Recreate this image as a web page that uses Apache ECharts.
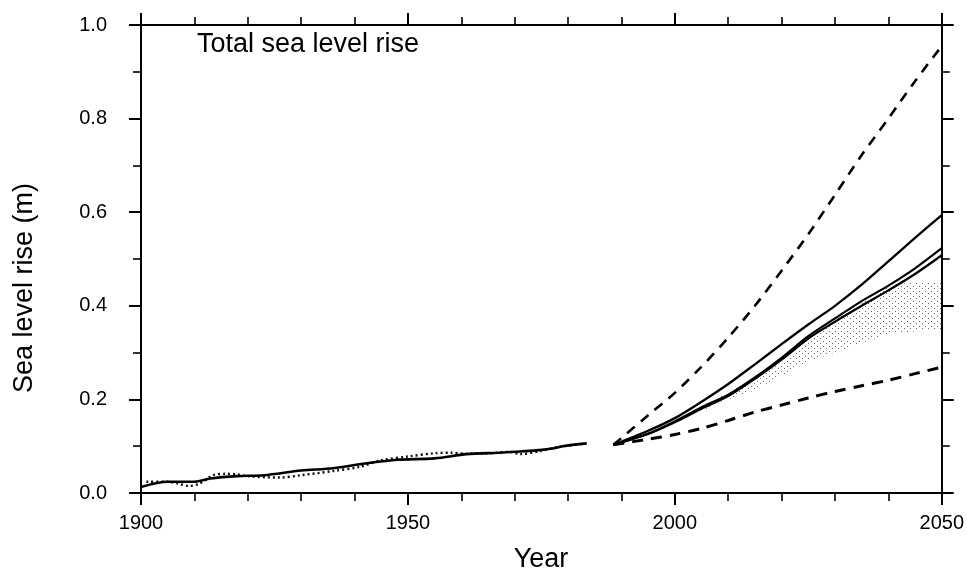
<!DOCTYPE html>
<html>
<head>
<meta charset="utf-8">
<script src="https://cdn.jsdelivr.net/npm/echarts@6/dist/echarts.min.js"></script>
<style>
html,body{margin:0;padding:0;background:#fff;}
#chart{width:967px;height:572px;}
</style>
</head>
<body>
<div id="chart"></div>
<script>
// ---- data ----
const histYears  = [1900, 1905, 1910, 1913, 1918, 1923, 1930, 1936, 1942, 1948, 1955, 1961, 1967, 1970, 1974, 1977, 1979, 1983.5];
const histSolid  = [0.013, 0.024, 0.024, 0.031, 0.036, 0.038, 0.048, 0.053, 0.063, 0.071, 0.074, 0.083, 0.086, 0.088, 0.091, 0.095, 0.100, 0.106];
const histDotYears = [1901, 1905, 1907, 1909, 1911, 1913.5, 1916, 1918, 1920, 1926, 1930, 1936, 1941, 1945, 1950, 1955, 1958, 1961, 1964, 1969, 1971, 1975, 1978, 1983];
const histDotted   = [0.024, 0.024, 0.020, 0.015, 0.020, 0.038, 0.041, 0.040, 0.036, 0.033, 0.038, 0.047, 0.056, 0.070, 0.078, 0.085, 0.086, 0.084, 0.084, 0.088, 0.083, 0.090, 0.098, 0.105];

const projYears   = [1988.5, 1995, 2000, 2005, 2010, 2015, 2020, 2025, 2030, 2035, 2040, 2045, 2050];
const upperDashed = [0.103, 0.166, 0.214, 0.270, 0.332, 0.400, 0.475, 0.553, 0.637, 0.722, 0.800, 0.880, 0.955];
const lowerDashed = [0.103, 0.115, 0.125, 0.138, 0.155, 0.173, 0.188, 0.203, 0.217, 0.229, 0.241, 0.255, 0.269];
const upperSolid  = [0.103, 0.133, 0.160, 0.195, 0.233, 0.275, 0.318, 0.360, 0.400, 0.445, 0.495, 0.545, 0.594];
const midUpper    = [0.103, 0.127, 0.153, 0.183, 0.210, 0.247, 0.289, 0.335, 0.373, 0.410, 0.443, 0.480, 0.523];
const midLower    = [0.103, 0.126, 0.151, 0.180, 0.207, 0.244, 0.285, 0.330, 0.366, 0.400, 0.433, 0.468, 0.508];

const bandYears = [2004, 2010, 2015, 2020, 2025, 2030, 2035, 2040, 2045, 2050];
const bandLow   = [0.170, 0.200, 0.220, 0.250, 0.280, 0.300, 0.320, 0.340, 0.345, 0.350];
const bandHigh  = [0.180, 0.215, 0.245, 0.280, 0.330, 0.370, 0.405, 0.440, 0.450, 0.450];

const xTickLabels = ['1900', '1950', '2000', '2050'];
const yTickLabels = ['0.0', '0.2', '0.4', '0.6', '0.8', '1.0'];

const titleText = 'Total sea level rise';
const xName = 'Year';
const yName = 'Sea level rise (m)';

// ---- helpers ----
const pair = (xs, ys) => xs.map((x, i) => [x, ys[i]]);

const stipple = document.createElement('canvas');
stipple.width = 6; stipple.height = 5;
(function () {
  const c = stipple.getContext('2d');
  c.fillStyle = '#ffffff';
  c.fillRect(0, 0, 6, 5);
  c.fillStyle = '#666666';
  c.fillRect(1, 1, 1, 1);
  c.fillRect(4, 3, 1, 1);
})();

const FONT = 'Liberation Sans, Arial, Helvetica, sans-serif';
const X_MIN = 1900, X_MAX = 2050;

function xAxisDef(pos, showLabels) {
  return {
    type: 'value', position: pos, min: X_MIN, max: X_MAX, interval: 50, z: 10,
    axisLine: { show: true, onZero: false, lineStyle: { color: '#000', width: 2 } },
    axisTick: { show: true, inside: false, length: 12, lineStyle: { color: '#000', width: 2 } },
    minorTick: { show: true, splitNumber: 5, length: 8, lineStyle: { color: '#000', width: 1.6 } },
    splitLine: { show: false }, minorSplitLine: { show: false },
    axisLabel: {
      show: showLabels, color: '#000', fontSize: 20, fontFamily: FONT, margin: 20,
      formatter: v => xTickLabels[Math.round((v - X_MIN) / 50)] || ''
    }
  };
}
function yAxisDef(pos, showLabels) {
  return {
    type: 'value', position: pos, min: 0, max: 1, interval: 0.2, z: 10,
    axisLine: { show: true, onZero: false, lineStyle: { color: '#000', width: 2 } },
    axisTick: { show: true, inside: false, length: 12, lineStyle: { color: '#000', width: 2 } },
    minorTick: { show: true, splitNumber: 2, length: 8, lineStyle: { color: '#000', width: 1.6 } },
    splitLine: { show: false }, minorSplitLine: { show: false },
    axisLabel: {
      show: showLabels, color: '#000', fontSize: 20, fontFamily: FONT, margin: 34,
      formatter: v => yTickLabels[Math.round(v / 0.2)] || ''
    }
  };
}

const chart = echarts.init(document.getElementById('chart'), null, { renderer: 'canvas' });

const lineBase = { type: 'line', symbol: 'none', xAxisIndex: 0, yAxisIndex: 0, silent: true, z: 5 };

chart.setOption({
  animation: false,
  backgroundColor: '#fff',
  grid: { left: 141, right: 24, top: 25, bottom: 79, containLabel: false },
  xAxis: [xAxisDef('bottom', true), xAxisDef('top', false)],
  yAxis: [yAxisDef('left', true), yAxisDef('right', false)],
  graphic: [
    { type: 'text', left: 197, top: 31, style: { text: titleText, font: '27px ' + FONT, fill: '#000' } },
    { type: 'text', x: 25, y: 288, rotation: Math.PI / 2,
      style: { text: yName, font: '27px ' + FONT, fill: '#000', textAlign: 'center', textVerticalAlign: 'middle' } },
    { type: 'text', x: 541, y: 560,
      style: { text: xName, font: '27px ' + FONT, fill: '#000', textAlign: 'center', textVerticalAlign: 'middle' } }
  ],
  series: [
    Object.assign({}, lineBase, {
      name: 'bandHigh', data: pair(bandYears, bandHigh), z: 2, smooth: 0.3,
      lineStyle: { width: 0, opacity: 0 },
      areaStyle: { color: { image: stipple, repeat: 'repeat' }, opacity: 1 }
    }),
    Object.assign({}, lineBase, {
      name: 'bandLow', data: pair(bandYears, bandLow), z: 3, smooth: 0.3,
      lineStyle: { width: 0, opacity: 0 },
      areaStyle: { color: '#ffffff', opacity: 1 }
    }),
    Object.assign({}, lineBase, {
      name: 'histDotted', data: pair(histDotYears, histDotted), smooth: 0.3,
      lineStyle: { color: '#111', width: 2.4, type: [2, 3] }
    }),
    Object.assign({}, lineBase, {
      name: 'histSolid', data: pair(histYears, histSolid), smooth: 0.3,
      lineStyle: { color: '#000', width: 2.6 }
    }),
    Object.assign({}, lineBase, {
      name: 'upperDashed', data: pair(projYears, upperDashed), smooth: 0.3,
      lineStyle: { color: '#000', width: 2.6, type: [10, 8] }
    }),
    Object.assign({}, lineBase, {
      name: 'lowerDashed', data: pair(projYears, lowerDashed), smooth: 0.3,
      lineStyle: { color: '#000', width: 3, type: [11, 8] }
    }),
    Object.assign({}, lineBase, {
      name: 'upperSolid', data: pair(projYears, upperSolid), smooth: 0.3,
      lineStyle: { color: '#000', width: 2.3 }
    }),
    Object.assign({}, lineBase, {
      name: 'midUpper', data: pair(projYears, midUpper), smooth: 0.3,
      lineStyle: { color: '#000', width: 2.2 }
    }),
    Object.assign({}, lineBase, {
      name: 'midLower', data: pair(projYears, midLower), smooth: 0.3,
      lineStyle: { color: '#000', width: 2.2 }
    })
  ]
});
</script>
</body>
</html>
